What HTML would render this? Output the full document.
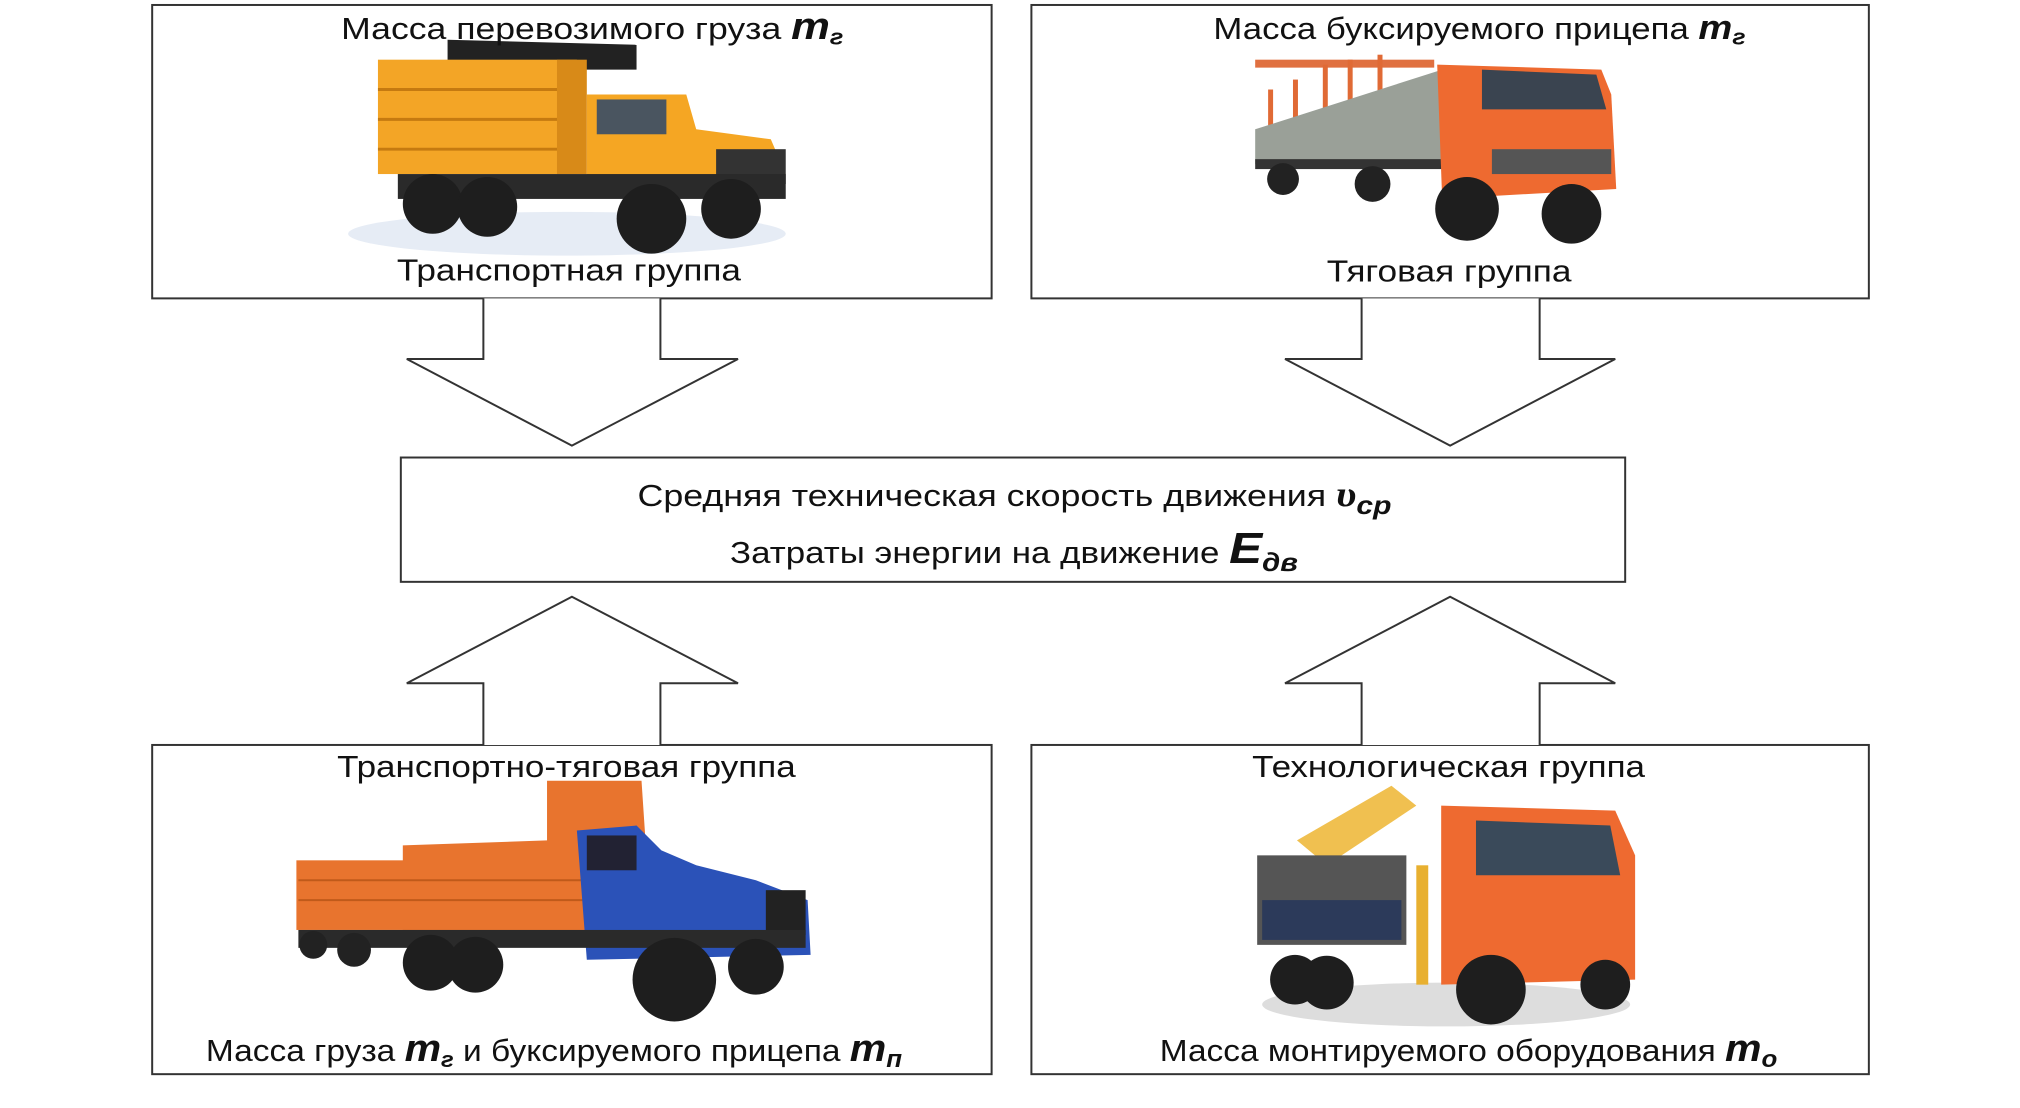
<!DOCTYPE html>
<html><head><meta charset="utf-8"><style>
html,body{margin:0;padding:0;background:#fff;}
svg{display:block;}
text{font-family:"Liberation Sans",sans-serif;fill:#111;}
.m{font-weight:bold;font-style:italic;}
</style></head><body>
<svg width="2020" height="1108" viewBox="0 0 2020 1108" xmlns="http://www.w3.org/2000/svg">
<g transform="scale(0.9946)">
<g fill="none" stroke="#333" stroke-width="2">
<rect x="153" y="5" width="844" height="295"/>
<rect x="1037" y="5" width="842" height="295"/>
<rect x="403" y="460" width="1231" height="125"/>
<rect x="153" y="749" width="844" height="331"/>
<rect x="1037" y="749" width="842" height="331"/>
</g>
<g fill="#fff" stroke="#333" stroke-width="2">
<polyline points="486,300 486,361 409,361 575,448 742,361 664,361 664,300"/>
<polyline points="1369,300 1369,361 1292,361 1458,448 1624,361 1548,361 1548,300"/>
<polyline points="486,749 486,687 409,687 575,600 742,687 664,687 664,749"/>
<polyline points="1369,749 1369,687 1292,687 1458,600 1624,687 1548,687 1548,749"/>
</g>

<g>
<ellipse cx="570" cy="235" rx="220" ry="22" fill="#e6ecf5"/>
<polygon points="450,40 640,45 640,70 450,70" fill="#222"/>
<rect x="380" y="60" width="200" height="115" fill="#f3a526"/>
<g stroke="#c57a10" stroke-width="3"><line x1="380" y1="90" x2="580" y2="90"/><line x1="380" y1="120" x2="580" y2="120"/><line x1="380" y1="150" x2="580" y2="150"/></g>
<rect x="560" y="60" width="30" height="115" fill="#d88a18"/>
<polygon points="590,95 690,95 700,130 775,140 790,175 590,195" fill="#f5a623"/>
<rect x="600" y="100" width="70" height="35" fill="#4a5560"/>
<rect x="720" y="150" width="70" height="35" fill="#333"/>
<rect x="400" y="175" width="390" height="25" fill="#2a2a2a"/>
<circle cx="435" cy="205" r="30" fill="#1e1e1e"/><circle cx="490" cy="208" r="30" fill="#1e1e1e"/>
<circle cx="655" cy="220" r="35" fill="#1e1e1e"/><circle cx="735" cy="210" r="30" fill="#1e1e1e"/>
</g>

<g>
<rect x="1262" y="60" width="180" height="8" fill="#e07040"/>
<g fill="#e06a35"><rect x="1275" y="90" width="5" height="45"/><rect x="1300" y="80" width="5" height="55"/><rect x="1330" y="65" width="5" height="70"/><rect x="1355" y="60" width="5" height="75"/><rect x="1385" y="55" width="5" height="80"/></g>
<polygon points="1262,130 1450,70 1470,75 1470,160 1262,165" fill="#9aa098"/>
<rect x="1262" y="160" width="210" height="10" fill="#333"/>
<circle cx="1290" cy="180" r="16" fill="#222"/><circle cx="1380" cy="185" r="18" fill="#222"/>
<polygon points="1445,65 1610,70 1620,95 1625,190 1450,200" fill="#ee6a30"/>
<polygon points="1490,70 1605,75 1615,110 1490,110" fill="#3a4450"/>
<rect x="1500" y="150" width="120" height="25" fill="#555"/>
<circle cx="1475" cy="210" r="32" fill="#1e1e1e"/><circle cx="1580" cy="215" r="30" fill="#1e1e1e"/>
</g>

<g>
<rect x="298" y="865" width="125" height="70" fill="#e8742e"/>
<polygon points="405,850 550,845 550,785 645,785 655,935 405,935" fill="#e8742e"/>
<g stroke="#c05a1a" stroke-width="2"><line x1="300" y1="885" x2="650" y2="885"/><line x1="300" y1="905" x2="650" y2="905"/></g>
<polygon points="580,835 640,830 665,855 700,870 760,885 812,905 815,960 590,965" fill="#2b52b8"/>
<rect x="590" y="840" width="50" height="35" fill="#223"/>
<rect x="770" y="895" width="40" height="45" fill="#222"/>
<rect x="300" y="935" width="510" height="18" fill="#2a2a2a"/>
<circle cx="315" cy="950" r="14" fill="#222"/><circle cx="356" cy="955" r="17" fill="#222"/>
<circle cx="433" cy="968" r="28" fill="#1e1e1e"/><circle cx="478" cy="970" r="28" fill="#1e1e1e"/>
<circle cx="678" cy="985" r="42" fill="#1e1e1e"/><circle cx="760" cy="972" r="28" fill="#1e1e1e"/>
</g>

<g transform="translate(4,0)">
<ellipse cx="1450" cy="1010" rx="185" ry="22" fill="#ddd"/>
<polygon points="1300,845 1395,790 1420,810 1330,870" fill="#f0c050"/>
<rect x="1260" y="860" width="150" height="90" fill="#555"/>
<rect x="1265" y="905" width="140" height="40" fill="#2c3a5a"/>
<polygon points="1445,810 1620,815 1640,860 1640,985 1445,990" fill="#ee6a30"/>
<polygon points="1480,825 1615,830 1625,880 1480,880" fill="#3a4a5a"/>
<rect x="1420" y="870" width="12" height="120" fill="#e8b030"/>
<circle cx="1298" cy="985" r="25" fill="#1e1e1e"/><circle cx="1330" cy="988" r="27" fill="#1e1e1e"/>
<circle cx="1495" cy="995" r="35" fill="#1e1e1e"/><circle cx="1610" cy="990" r="25" fill="#1e1e1e"/>
</g>

<g font-size="31">
<text x="343" y="39" textLength="505" lengthAdjust="spacingAndGlyphs">Масса перевозимого груза <tspan class="m" font-size="38">m</tspan><tspan class="m" font-size="22" dy="6">г</tspan></text>
<text x="399" y="282" textLength="346" lengthAdjust="spacingAndGlyphs">Транспортная группа</text>
<text x="1220" y="39" textLength="535" lengthAdjust="spacingAndGlyphs">Масса буксируемого прицепа <tspan class="m" font-size="34">m</tspan><tspan class="m" font-size="22" dy="6">г</tspan></text>
<text x="1334" y="283" textLength="246" lengthAdjust="spacingAndGlyphs">Тяговая группа</text>
<text x="641" y="509" textLength="758" lengthAdjust="spacingAndGlyphs">Средняя техническая скорость движения   <tspan class="m" font-size="36" font-family="Liberation Serif">υ</tspan><tspan class="m" font-size="26" dy="8">ср</tspan></text>
<text x="734" y="566" textLength="571" lengthAdjust="spacingAndGlyphs">Затраты энергии на движение <tspan class="m" font-size="44">E</tspan><tspan class="m" font-size="26" dy="8">дв</tspan></text>
<text x="339" y="781" textLength="461" lengthAdjust="spacingAndGlyphs">Транспортно-тяговая группа</text>
<text x="1259" y="781" textLength="395" lengthAdjust="spacingAndGlyphs">Технологическая группа</text>
<text x="207" y="1067" textLength="700" lengthAdjust="spacingAndGlyphs">Масса груза <tspan class="m" font-size="38">m</tspan><tspan class="m" font-size="22" dy="6">г</tspan><tspan dy="-6"> и буксируемого прицепа </tspan><tspan class="m" font-size="38">m</tspan><tspan class="m" font-size="24" dy="6">п</tspan></text>
<text x="1166" y="1067" textLength="621" lengthAdjust="spacingAndGlyphs">Масса монтируемого оборудования <tspan class="m" font-size="38">m</tspan><tspan class="m" font-size="24" dy="6">о</tspan></text>
</g>
</g>
</svg>
</body></html>
